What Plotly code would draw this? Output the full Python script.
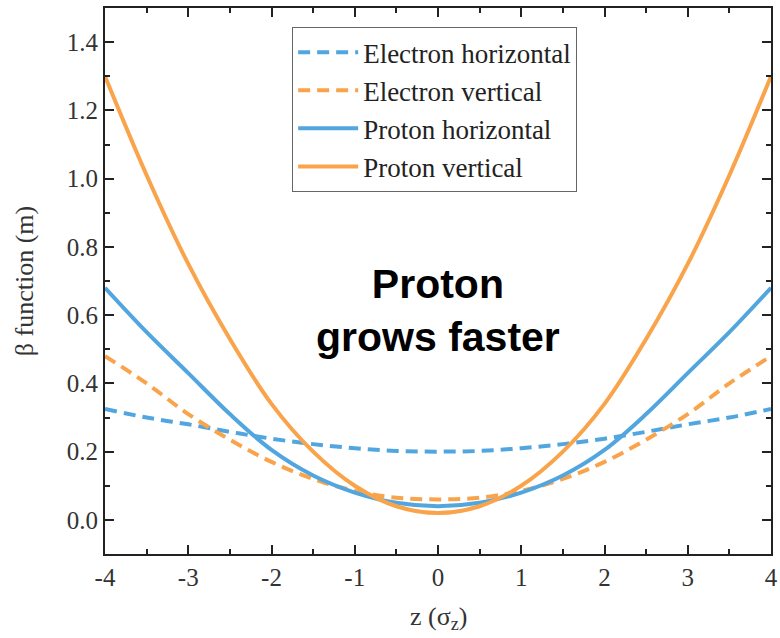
import plotly.graph_objects as go

z = [-4.0, -3.5, -3.0, -2.5, -2.0, -1.5, -1.0, -0.5, 0.0, 0.5, 1.0, 1.5, 2.0, 2.5, 3.0, 3.5, 4.0]
electron_h = [0.325, 0.300, 0.280, 0.258, 0.238, 0.222, 0.210, 0.202, 0.200, 0.202, 0.210, 0.222, 0.238, 0.258, 0.280, 0.300, 0.325]
electron_v = [0.480, 0.400, 0.310, 0.235, 0.170, 0.120, 0.085, 0.065, 0.060, 0.065, 0.085, 0.120, 0.170, 0.235, 0.310, 0.400, 0.480]
proton_h = [0.680, 0.550, 0.430, 0.310, 0.205, 0.130, 0.080, 0.050, 0.040, 0.050, 0.080, 0.130, 0.205, 0.310, 0.430, 0.550, 0.680]
proton_v = [1.300, 1.010, 0.750, 0.530, 0.340, 0.200, 0.100, 0.040, 0.020, 0.040, 0.100, 0.200, 0.340, 0.530, 0.750, 1.010, 1.300]

x_ticks = [-4, -3, -2, -1, 0, 1, 2, 3, 4]
x_ticktext = ["-4", "-3", "-2", "-1", "0", "1", "2", "3", "4"]
y_ticks = [0.0, 0.2, 0.4, 0.6, 0.8, 1.0, 1.2, 1.4]
y_ticktext = ["0.0", "0.2", "0.4", "0.6", "0.8", "1.0", "1.2", "1.4"]

BLUE = "#52A6E0"
ORANGE = "#F9A44B"
SERIF = "Liberation Serif"

fig = go.Figure()
series = [
    ("Electron horizontal", electron_h, BLUE, "12px,7px"),
    ("Electron vertical", electron_v, ORANGE, "12px,7px"),
    ("Proton horizontal", proton_h, BLUE, "solid"),
    ("Proton vertical", proton_v, ORANGE, "solid"),
]
for name, ys, col, dash in series:
    fig.add_trace(go.Scatter(
        x=z, y=ys, mode="lines", name=name,
        line=dict(color=col, width=4, dash=dash, shape="spline", smoothing=1.0),
    ))

fig.update_layout(
    width=780, height=638,
    margin=dict(l=105, r=7, t=8, b=84),
    paper_bgcolor="white", plot_bgcolor="white",
    font=dict(family=SERIF, size=24, color="#333"),
    showlegend=True,
    legend=dict(
        x=0.281, y=0.965, xanchor="left", yanchor="top",
        bgcolor="white", bordercolor="#666", borderwidth=1,
        font=dict(family=SERIF, size=27, color="#222"),
        tracegroupgap=0, itemwidth=60,
    ),
    xaxis=dict(
        range=[-4, 4], tickmode="array", tickvals=x_ticks, ticktext=x_ticktext,
        showline=True, linecolor="#222", linewidth=2, mirror="ticks",
        ticks="inside", ticklen=9, tickwidth=2, tickcolor="#222",
        showgrid=False, zeroline=False, automargin=False, ticklabeloverflow="allow",
        tickfont=dict(family=SERIF, size=25, color="#333"),
        minor=dict(ticks="inside", ticklen=5, tickwidth=2, tickcolor="#222", dtick=0.5, showgrid=False),
    ),
    yaxis=dict(
        range=[-0.1, 1.5], tickmode="array", tickvals=y_ticks, ticktext=y_ticktext,
        showline=True, linecolor="#222", linewidth=2, mirror="ticks",
        ticks="inside", ticklen=9, tickwidth=2, tickcolor="#222",
        showgrid=False, zeroline=False, automargin=True,
        tickfont=dict(family=SERIF, size=25, color="#333"),
        minor=dict(ticks="inside", ticklen=5, tickwidth=2, tickcolor="#222", dtick=0.1, tick0=0, showgrid=False),
        title=dict(text="β function (m)", font=dict(family=SERIF, size=26, color="#333"), standoff=26),
    ),
)

# x-axis title placed as a paper annotation to match the reference position
fig.add_annotation(
    x=0.5, y=0, xref="paper", yref="paper", yshift=-64, yanchor="middle",
    showarrow=False, text="z (σ<sub>z</sub>)",
    font=dict(family=SERIF, size=26, color="#333"),
)

fig.add_annotation(
    x=0, y=0.615, xref="x", yref="y", showarrow=False,
    text="<b>Proton<br>grows faster</b>",
    font=dict(family="Liberation Sans", size=41, color="#000"),
)

fig.write_html("out.html")
